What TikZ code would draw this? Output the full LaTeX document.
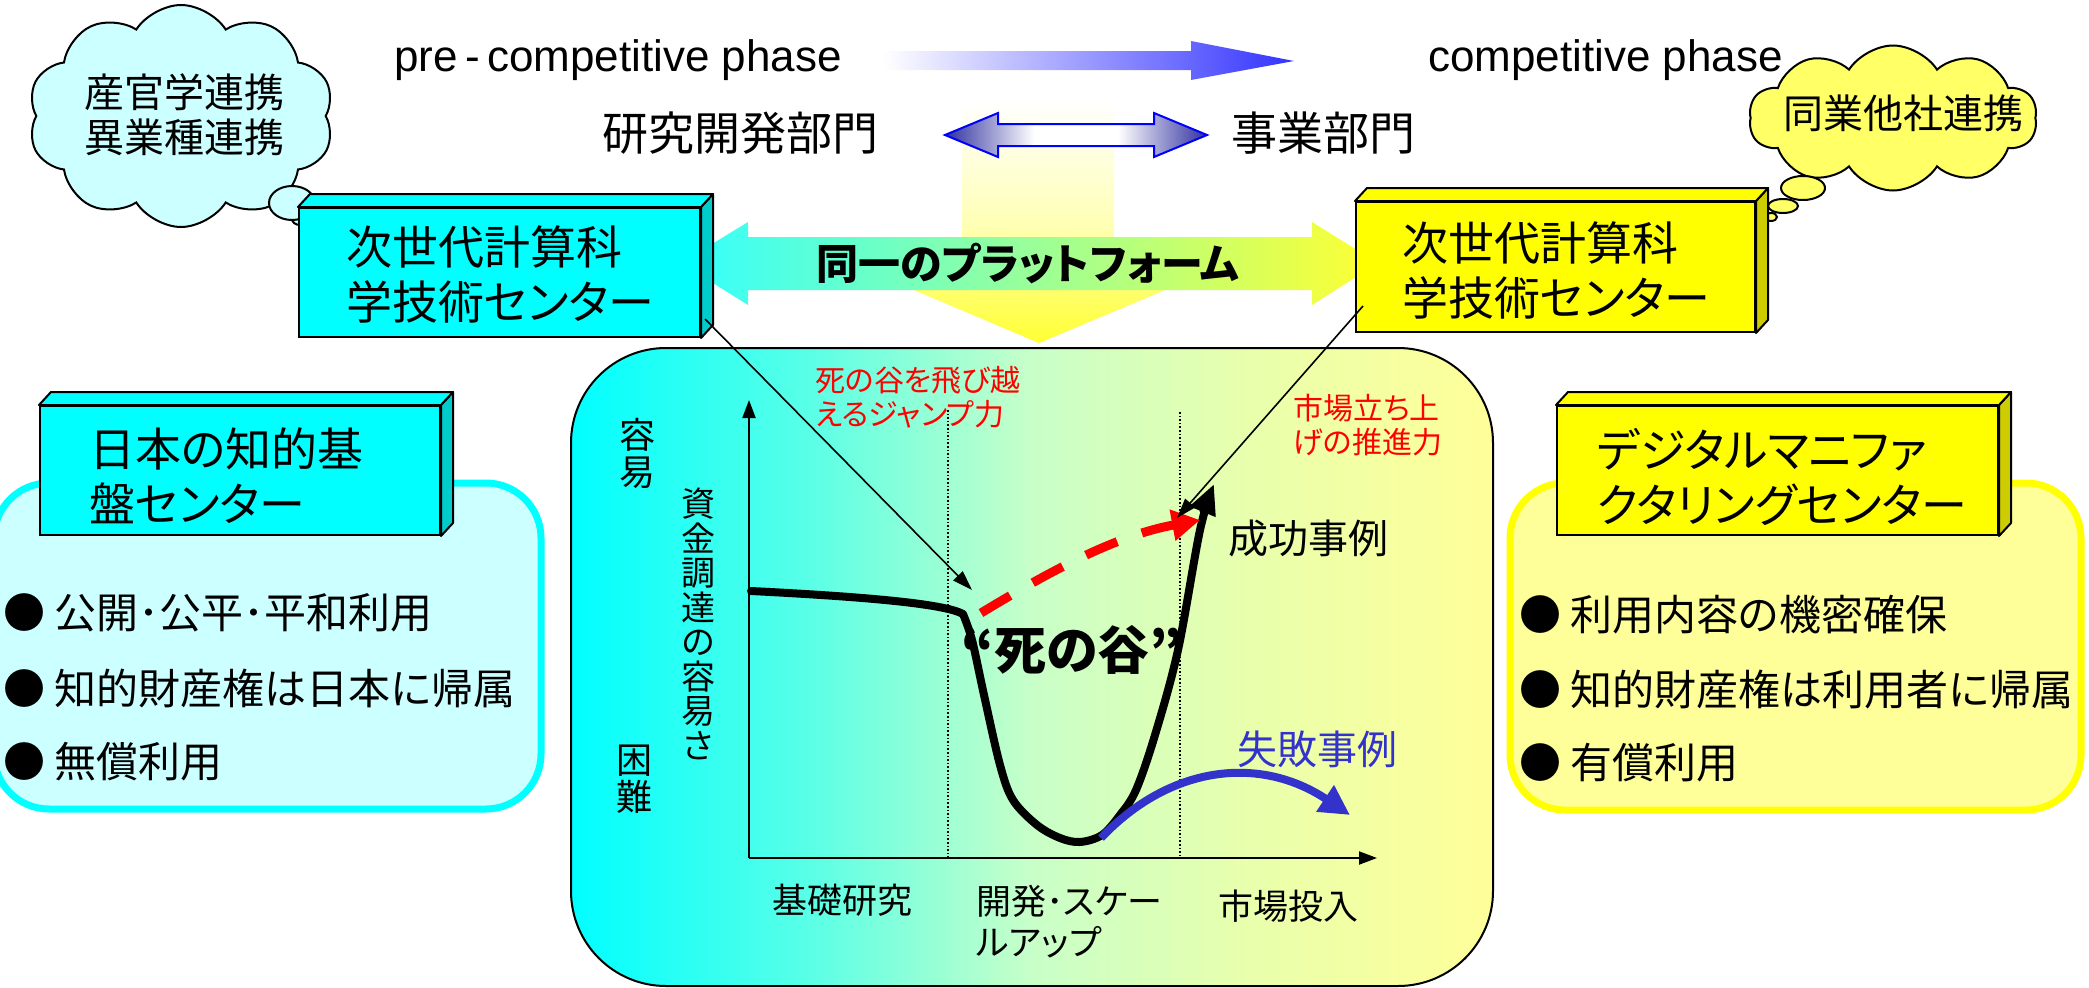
\documentclass[tikz,border=0pt]{standalone}
\usepackage{fontspec}
\setmainfont{Noto Sans CJK JP}[RawFeature=+palt]
\newfontfamily\latf{Liberation Sans}
\usetikzlibrary{arrows.meta,shapes.symbols,calc}
\definecolor{cy}{HTML}{00FFFF}
\definecolor{cyside}{HTML}{00CCCC}
\definecolor{ye}{HTML}{FFFF00}
\definecolor{yeside}{HTML}{CCCC00}
\definecolor{lcy}{HTML}{CCFFFF}
\definecolor{lye}{HTML}{FFFF99}
\definecolor{cloudye}{HTML}{FFFF66}
\definecolor{arrblue}{HTML}{3333FF}
\definecolor{failblue}{HTML}{3333CC}
\definecolor{dblue}{HTML}{3030A0}
\definecolor{midg}{HTML}{BBFFAA}
\definecolor{pcy}{HTML}{33FFFF}
\definecolor{pye}{HTML}{FFFF33}
\definecolor{midp}{HTML}{C8FFC8}
\pgfdeclarehorizontalshading{dblsh}{100bp}{color(0bp)=(dblue); color(25bp)=(dblue); color(42bp)=(white); color(58bp)=(white); color(75bp)=(dblue); color(100bp)=(dblue)}
\pgfdeclarehorizontalshading{panelsh}{100bp}{color(0bp)=(cy); color(25bp)=(cy); color(38bp)=(cy!55!midp); color(50bp)=(midp); color(62bp)=(lye!60!midp); color(75bp)=(lye); color(100bp)=(lye)}
\newcommand\threed[3]{%
  \filldraw[fill=#2, line width=2pt, line join=round] (#1.north east) -- ++(12,-13) -- ($(#1.south east)+(12,-13)$) -- (#1.south east) -- cycle;
  \filldraw[fill=#3, line width=2pt, line join=round] (#1.north west) -- ++(12,-13) -- ($(#1.north east)+(12,-13)$) -- (#1.north east) -- cycle;}
\begin{document}
\begin{tikzpicture}[x=1pt,y=-1pt,
  boxfront/.style={draw, line width=2pt, inner sep=0pt},
  boxtext/.style={anchor=west, align=left, inner sep=0pt, font=\fontsize{46}{55}\selectfont},
  bul/.style={anchor=west, inner sep=0pt, font=\fontsize{42}{50}\selectfont},
  lbl/.style={inner sep=0pt, font=\fontsize{35}{41}\selectfont},
  redl/.style={anchor=west, align=left, inner sep=0pt, text=red, font=\fontsize{30}{34}\selectfont},
  thinarr/.style={line width=1.6pt, -{Triangle[length=20pt,width=13pt]}},
  puff/.style={draw, line width=2pt},
  cloudbox/.style={cloud, cloud puffs=10, cloud puff arc=115, cloud ignores aspect, draw, line width=2pt, inner sep=0pt},
  vstack/.style={inner sep=0pt, align=center},
]
\useasboundingbox (0,0) rectangle (2089,988);

% ---------- top row ----------
\node[anchor=west, inner sep=0pt, font=\latf\fontsize{44}{50}\selectfont] (pre) at (394,60) {pre\,-\,competitive phase};
\shade[left color=white, right color=arrblue] (883,51) -- (1191,51) -- (1191,41) -- (1294,61) -- (1191,80) -- (1191,70) -- (883,70) -- cycle;
\node[anchor=west, inner sep=0pt, font=\latf\fontsize{44}{50}\selectfont] (comp) at (1428,60) {competitive phase};

% down arrow (behind)
\shade[top color=white, bottom color=pye, middle color=pye!35] (962,100) -- (1114,100) -- (1114,280) -- (1189,280) -- (1039,343) -- (890,280) -- (962,280) -- cycle;

% double arrow
\draw[line width=2pt, draw=blue, shading=dblsh]
  (945,135) -- (998,113) -- (998,124) -- (1154,124) -- (1154,113) -- (1207,135) -- (1154,157) -- (1154,146) -- (998,146) -- (998,157) -- cycle;
\node[anchor=east, inner sep=0pt, font=\fontsize{46}{55}\selectfont] (rd) at (879,133) {研究開発部門};
\node[anchor=west, inner sep=0pt, font=\fontsize{46}{55}\selectfont] (biz) at (1231,133) {事業部門};

% clouds
\draw[puff, fill=lcy] (300,219) ellipse [x radius=8, y radius=6];
\node[cloudbox, fill=lcy, minimum width=306pt, minimum height=222pt] (lcloud) at (181,116) {};
\draw[puff, fill=lcy] (292,203) ellipse [x radius=23, y radius=17];
\node[inner sep=0pt, align=center, font=\fontsize{40}{45}\selectfont] (lcloudtext) at (184,115) {産官学連携\\異業種連携};

\node[cloudbox, fill=cloudye, minimum width=288pt, minimum height=145pt] (rcloud) at (1893,118) {};
\draw[puff, fill=cloudye] (1803,188) ellipse [x radius=22, y radius=12];
\draw[puff, fill=cloudye] (1783,206) ellipse [x radius=15, y radius=7];
\draw[puff, fill=cloudye] (1771,217) ellipse [x radius=6, y radius=4];
\node[inner sep=0pt, font=\fontsize{40}{45}\selectfont] (rcloudtext) at (1903,113) {同業他社連携};

% platform arrow
\shade[left color=pcy, middle color=midg, right color=pye] (681,263) -- (748,222) -- (748,237) -- (1312,237) -- (1312,222) -- (1378,263) -- (1312,305) -- (1312,290) -- (748,290) -- (748,305) -- cycle;
\node[inner sep=0pt, font=\bfseries\fontsize{42}{50}\selectfont] (plat) at (1028,263) {同一のプラットフォーム};

% top boxes
\node[boxfront, fill=cy, minimum width=401pt, minimum height=129pt] (gc) at (499.5,272.5) {};
\threed{gc}{cyside}{cy}
\node[boxtext] (gctext) at (346,274.5) {次世代計算科\\学技術センター};

\node[boxfront, fill=ye, minimum width=399pt, minimum height=130pt] (yc) at (1555.5,267) {};
\threed{yc}{yeside}{ye}
\node[boxtext] (yctext) at (1402,270.5) {次世代計算科\\学技術センター};

% ---------- side panels ----------
\draw[line width=7pt, draw=cy, fill=lcy, rounded corners=55pt] (-6,483) rectangle (541,809);
\node[boxfront, fill=cy, minimum width=400pt, minimum height=129pt] (jb) at (240,470.5) {};
\threed{jb}{cyside}{cy}
\node[boxtext] (jbtext) at (89,475.5) {日本の知的基\\盤センター};
\node[bul] (lb1) at (3,613) {● 公開･公平･平和利用};
\node[bul] (lb2) at (3,688) {● 知的財産権は日本に帰属};
\node[bul] (lb3) at (3,762) {● 無償利用};

\draw[line width=7pt, draw=ye, fill=lye, rounded corners=55pt] (1510,483) rectangle (2081,810);
\node[boxfront, fill=ye, minimum width=441pt, minimum height=129pt] (dm) at (1777.5,470.5) {};
\threed{dm}{yeside}{ye}
\node[boxtext] (dmtext) at (1597,476.5) {デジタルマニファ\\クタリングセンター};
\node[bul] (rb1) at (1519,615) {● 利用内容の機密確保};
\node[bul] (rb2) at (1519,690) {● 知的財産権は利用者に帰属};
\node[bul] (rb3) at (1519,763) {● 有償利用};

% ---------- central panel ----------
\draw[line width=2pt, rounded corners=95pt, shading=panelsh] (571,348) rectangle (1493,986);

% axes
\coordinate (orig) at (749,858);
\coordinate (ytop) at (749,400);
\coordinate (xend) at (1377,858);
\draw[line width=2pt, -{Triangle[length=18pt,width=13pt]}] (orig) -- (ytop);
\draw[line width=2pt, -{Triangle[length=18pt,width=13pt]}] (orig) -- (xend);
\draw[line width=1.6pt, dotted] (948,410) -- (948,858);
\draw[line width=1.6pt, dotted] (1180,412) -- (1180,858);

% curves
\draw[line width=8pt, line join=round, line cap=round, -{Triangle[length=30pt,width=26pt]}]
  (751,591) .. controls (870,597) and (945,604) .. (963,614)
  -- plot[smooth, tension=0.55] coordinates {(963,614) (972,640) (984,695) (1000,765) (1013,800) (1037,825) (1060,838) (1080,842) (1102,835) (1120,815) (1136,790) (1155,735) (1178,650) (1200,530) (1214,484)};
\draw[red, line width=9pt, dash pattern=on 34pt off 26pt, -{Triangle[length=28pt,width=30pt]}]
  (981,613) .. controls (1060,565) and (1120,535) .. (1200,520);
\draw[failblue, line width=8pt, -{Triangle[length=30pt,width=30pt]}]
  (1101,838) .. controls (1170,765) and (1260,755) .. (1350,815);

% chart labels
\node[vstack, font=\fontsize{36}{37}\selectfont] (easy) at (637,453) {容\\易};
\node[vstack, font=\fontsize{36}{37}\selectfont] (hard) at (634,779) {困\\難};
\node[vstack, font=\fontsize{34}{34.5}\selectfont] (ylab) at (698,624) {資\\金\\調\\達\\の\\容\\易\\さ};
\node[lbl] (basic) at (842,900) {基礎研究};
\node[lbl, anchor=west, align=left] (dev) at (976,922) {開発･スケー\\ルアップ};
\node[lbl] (mkt) at (1288,906) {市場投入};
\node[redl] (jump) at (815,397) {死の谷を飛び越\\えるジャンプ力};
\node[redl] (push) at (1293,425) {市場立ち上\\げの推進力};
\node[inner sep=0pt, anchor=west, font=\fontsize{40}{45}\selectfont] (succ) at (1228,538) {成功事例};
\node[inner sep=0pt, anchor=west, text=failblue, font=\fontsize{40}{45}\selectfont] (fail) at (1237,749) {失敗事例};
\node[inner sep=0pt, font=\bfseries\fontsize{52}{60}\selectfont] (valley) at (1072,650) {“死の谷”};

% thin pointer arrows
\coordinate (tipL) at (972,590);
\coordinate (tipR) at (1177,518);
\draw[thinarr] ($(gc.south east)+(4,-19)$) -- (tipL);
\draw[thinarr] ($(yc.south west)+(8,-27)$) -- (tipR);
\end{tikzpicture}
\end{document}
